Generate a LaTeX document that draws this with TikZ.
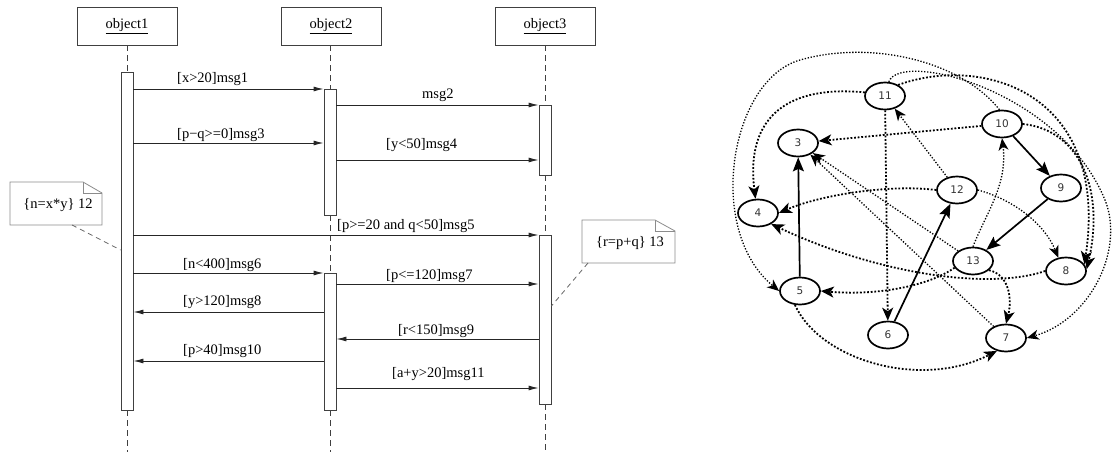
\documentclass[tikz,border=0pt]{standalone}
\usepackage{fontspec}
\setmainfont{Liberation Serif}
\newfontfamily\gfont{DejaVu Sans}
\usetikzlibrary{arrows.meta,shapes.geometric}
\tikzset{
  objbox/.style={draw=black!75, line width=0.8pt, minimum width=100pt, minimum height=38pt, inner sep=0pt, font=\fontsize{14.5}{16}\selectfont},
  actbar/.style={draw=black!75, fill=white, line width=0.9pt, minimum width=12pt, inner sep=0pt},
  life/.style={draw=black!75, dash pattern=on 6pt off 4pt, line width=0.8pt},
  msgarrow/.style={draw=black!85, line width=0.9pt, -{Latex[length=10pt,width=5pt]}},
  lbl/.style={font=\fontsize{14.5}{16}\selectfont, anchor=base west, inner sep=0pt},
  notebox/.style={draw=black!45, fill=white, line width=0.8pt},
  notelink/.style={draw=black!60, dash pattern=on 5pt off 4pt, line width=0.8pt},
  gnode/.style={ellipse, draw, line width=1.7pt, minimum width=40pt, minimum height=27pt, inner sep=0pt, text=black!80, font=\gfont\fontsize{10.5}{12}\selectfont},
  solidarr/.style={line width=1.7pt, -{Stealth[length=14pt,width=11pt,inset=2.5pt]}},
  dotarr/.style={line width=1.8pt, dash pattern=on 1.8pt off 1.8pt, -{Stealth[length=13pt,width=11pt,inset=3.5pt]}},
  dotthin/.style={line width=1.3pt, dash pattern=on 1.3pt off 1.7pt, -{Stealth[length=12pt,width=10pt,inset=3.5pt]}}
}
\begin{document}
\begin{tikzpicture}[x=1pt,y=-1pt]
\useasboundingbox (0,0) rectangle (1112,452);

% ---------- sequence diagram ----------
\node[objbox] (o1) at (127,26) {\underline{object1}};
\node[objbox] (o2) at (331,26) {\underline{object2}};
\node[objbox] (o3) at (545,26) {\underline{object3}};

\coordinate (e1) at (127,452);
\coordinate (e2) at (330,452);
\coordinate (e3) at (545,452);

\node[actbar, minimum height=338pt] (a1) at (127,241) {};
\node[actbar, minimum height=126pt] (a2) at (330,152) {};
\node[actbar, minimum height=137pt] (a3) at (330,341.5) {};
\node[actbar, minimum height=70pt] (a4) at (545,140) {};
\node[actbar, minimum height=169pt] (a5) at (545,319.5) {};

\draw[life] (o1.south) -- (a1.north);
\draw[life] (a1.south) -- (e1);
\draw[life] (o2.south -| a2.north) -- (a2.north);
\draw[life] (a2.south) -- (a3.north);
\draw[life] (a3.south) -- (e2);
\draw[life] (o3.south) -- (a4.north);
\draw[life] (a4.south) -- (a5.north);
\draw[life] (a5.south) -- (e3);

\draw[msgarrow] (a1.east |- 0,89) -- (a2.west |- 0,89);
\draw[msgarrow] (a2.east |- 0,105) -- (a4.west |- 0,105);
\draw[msgarrow] (a1.east |- 0,143) -- (a2.west |- 0,143);
\draw[msgarrow] (a2.east |- 0,160) -- (a4.west |- 0,160);
\draw[msgarrow] (a1.east |- 0,235) -- (a5.west |- 0,235);
\draw[msgarrow] (a1.east |- 0,273) -- (a3.west |- 0,273);
\draw[msgarrow] (a3.east |- 0,284) -- (a5.west |- 0,284);
\draw[msgarrow] (a3.west |- 0,312) -- (a1.east |- 0,312);
\draw[msgarrow] (a5.west |- 0,339) -- (a3.east |- 0,339);
\draw[msgarrow] (a3.west |- 0,361) -- (a1.east |- 0,361);
\draw[msgarrow] (a3.east |- 0,388) -- (a5.west |- 0,388);

\node[lbl] (l1) at (177,83) {[x>20]msg1};
\node[lbl] (l2) at (422,99) {msg2};
\node[lbl] (l3) at (177,139) {[p−q>=0]msg3};
\node[lbl] (l4) at (386,148) {[y<50]msg4};
\node[lbl] (l5) at (337,229) {[p>=20 and q<50]msg5};
\node[lbl] (l6) at (183,268) {[n<400]msg6};
\node[lbl] (l7) at (386,279) {[p<=120]msg7};
\node[lbl] (l8) at (183,305) {[y>120]msg8};
\node[lbl] (l9) at (398,334) {[r<150]msg9};
\node[lbl] (l10) at (183,354) {[p>40]msg10};
\node[lbl] (l11) at (392,377) {[a+y>20]msg11};

% notes
\draw[notebox] (10,182) -- (83,182) -- (102,193) -- (102,225) -- (10,225) -- cycle;
\draw[draw=black!45, line width=0.8pt] (83,182) -- (83,193) -- (102,193);
\node[lbl, anchor=center] (nt12) at (58,205) {\{n=x*y\} 12};
\coordinate (nt12a) at (72,225);
\draw[notelink] (nt12a) -- (a1.west |- 0,250);

\draw[notebox] (582,220) -- (655,220) -- (675,231) -- (675,263) -- (582,263) -- cycle;
\draw[draw=black!45, line width=0.8pt] (655,220) -- (655,231) -- (675,231);
\node[lbl, anchor=center] (nt13) at (630,243) {\{r=p+q\} 13};
\coordinate (nt13a) at (588,263);
\draw[notelink] (nt13a) -- (a5.east |- 0,306);

% ---------- graph ----------
\node[gnode] (n3) at (798,143) {3};
\node[gnode] (n4) at (758,213) {4};
\node[gnode] (n5) at (800,291) {5};
\node[gnode] (n6) at (888,335) {6};
\node[gnode] (n7) at (1006,338) {7};
\node[gnode] (n8) at (1066,271) {8};
\node[gnode] (n9) at (1061,188) {9};
\node[gnode] (n10) at (1002,124) {10};
\node[gnode] (n11) at (885,96) {11};
\node[gnode] (n12) at (957,190) {12};
\node[gnode] (n13) at (973,261) {13};

% solid
\draw[solidarr] (n5) -- (n3);
\draw[solidarr] (n6) -- (n12);
\draw[solidarr] (n10) -- (n9);
\draw[solidarr] (n9) -- (n13);

% dotted straight
\draw[dotarr] (n10) -- (n3);
\draw[dotthin] (n13) -- (n3);
\draw[dotthin] (n7) -- (n3);
\draw[dotthin] (n12) -- (n11);
\draw[dotarr] (n11) -- (n6);

% dotted curves
\draw[dotarr] (n12.west) .. controls (890,184) and (820,195) .. (n4.east);
\draw[dotthin] (n12.east) .. controls (1015,200) and (1045,225) .. (n8.120);
\draw[dotthin] (n13.north) .. controls (985,215) and (1008,185) .. (n10.south);
\draw[dotarr] (n13.-30) .. controls (1010,275) and (1012,300) .. (n7.north);
\draw[dotarr] (n13.200) .. controls (930,285) and (880,296) .. (n5.east);
\draw[dotarr] (n8.west) .. controls (990,290) and (880,275) .. (n4.-40);
\draw[dotarr] (n11.170) .. controls (790,85) and (745,115) .. (n4.100);
\draw[dotthin] (n10.100) .. controls (960,60) and (870,40) .. (800,60) .. controls (730,80) and (705,230) .. (n5.west);
\draw[dotarr] (n11.40) .. controls (980,55) and (1110,90) .. (n8.20);
\draw[dotthin] (n11.75) .. controls (900,50) and (1060,90) .. (1105,200) .. controls (1125,250) and (1090,320) .. (n7.east);
\draw[dotarr] (n10.east) .. controls (1080,130) and (1105,190) .. (n8.5);
\draw[dotarr] (n5.250) .. controls (820,360) and (920,390) .. (n7.235);
\end{tikzpicture}
\end{document}
